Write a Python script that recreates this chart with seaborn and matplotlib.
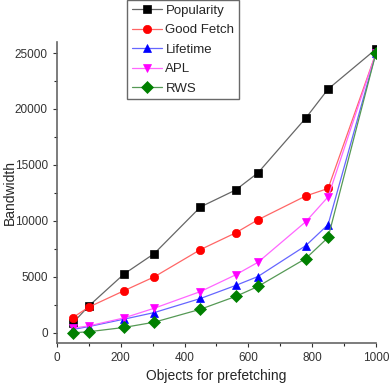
import matplotlib
matplotlib.use("Agg")
import matplotlib.pyplot as plt
import pandas as pd
import seaborn as sns

# data
objects = [50, 100, 210, 305, 450, 560, 630, 780, 850, 1000]
popularity = [890, 2400, 5250, 7080, 11250, 12760, 14290, 19190, 21780, 25350]
good_fetch = [1370, 2300, 3760, 5000, 7440, 8930, 10100, 12230, 12900, 25000]
lifetime = [300, 560, 1220, 1810, 3070, 4230, 5030, 7790, 9670, 25000]
apl = [420, 620, 1330, 2200, 3690, 5180, 6300, 9930, 12150, 25000]
rws = [0, 100, 480, 950, 2110, 3250, 4140, 6640, 8520, 25000]

series = ["Popularity", "Good Fetch", "Lifetime", "APL", "RWS"]
values = [popularity, good_fetch, lifetime, apl, rws]

marker_colors = ["#000000", "#ff0000", "#0000ff", "#ff00ff", "#008000"]
line_colors = ["#666666", "#ff6666", "#6666ff", "#ff66ff", "#559955"]
marker_shapes = ["s", "o", "^", "v", "D"]

rows = []
for name, vals in zip(series, values):
    for x, y in zip(objects, vals):
        rows.append([name, x, y])
df = pd.DataFrame(rows, columns=["method", "objects", "bandwidth"])

sns.set_style("ticks")
plt.rcParams["font.family"] = ["Liberation Sans", "DejaVu Sans"]

fig = plt.figure(figsize=(3.9, 3.91), dpi=100)
ax = fig.add_axes([0.146, 0.123, 0.818, 0.770])

sns.lineplot(
    data=df, x="objects", y="bandwidth", hue="method", style="method",
    hue_order=series, style_order=series,
    palette=marker_colors, markers=marker_shapes, dashes=False,
    linewidth=0.9, markersize=6, markeredgewidth=0.5,
    legend=False, ax=ax,
)

# lighter connecting lines, darker markers
for line, lc, mc in zip(ax.lines, line_colors, marker_colors):
    line.set_color(lc)
    line.set_markerfacecolor(mc)
    line.set_markeredgecolor(mc)

fig.legend(ax.lines[:5], series, loc="upper left", bbox_to_anchor=(0.326, 1.0),
           fontsize=9.5, frameon=True, fancybox=False, edgecolor="#444444",
           handlelength=2.3, handletextpad=0.25, labelspacing=0.55,
           borderpad=0.35, borderaxespad=0.0)

ax.set_xlim(0, 1000)
ax.set_ylim(-900, 26000)
ax.set_xticks([0, 200, 400, 600, 800, 1000])
ax.set_xticks([100, 300, 500, 700, 900], minor=True)
ax.set_yticks([0, 5000, 10000, 15000, 20000, 25000])
ax.set_yticks([2500, 7500, 12500, 17500, 22500], minor=True)
ax.tick_params(labelsize=8.5, length=3, width=0.8, colors="#333333")
ax.tick_params(which="minor", length=2, width=0.8)
ax.set_xlabel("Objects for prefetching", fontsize=10)
ax.set_ylabel("Bandwidth", fontsize=10)
ax.yaxis.set_label_coords(-0.125, 0.5)
sns.despine(ax=ax)
for s in ["left", "bottom"]:
    ax.spines[s].set_color("#666666")
    ax.spines[s].set_linewidth(1.2)

fig.savefig("out.png", dpi=100)
